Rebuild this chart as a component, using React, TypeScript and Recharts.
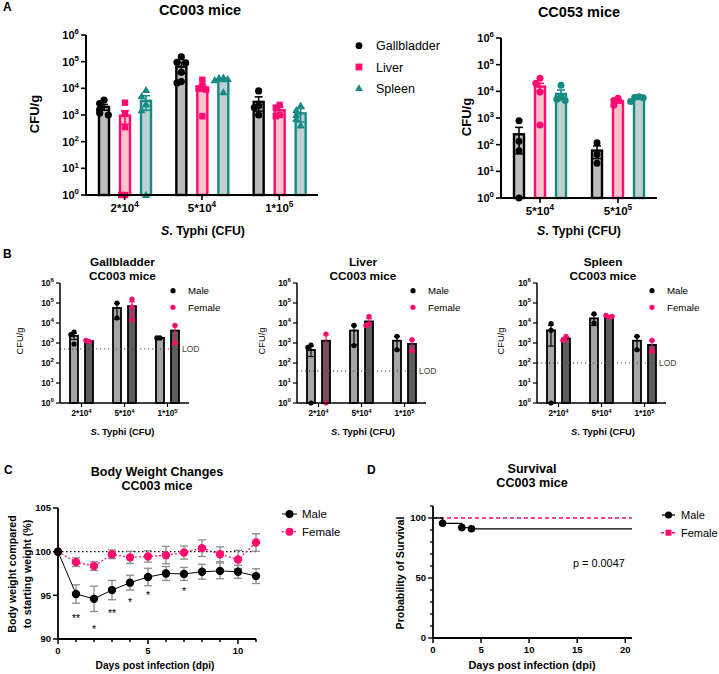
import React from "react";
import {
  BarChart,
  Bar,
  XAxis,
  YAxis,
  ReferenceLine,
  ComposedChart,
  Line,
  ErrorBar,
  Scatter,
} from "recharts";

const FONT = '"Liberation Sans", Arial, Helvetica, sans-serif';
const PINK = "#ff0a6e";
const TEAL = "#178a86";

// ---- A: CC003 organ burden (CFU/g) ----
const dosesCC003 = ["2*10^4", "5*10^4", "1*10^5"];
const gbCC003 = [
  [3600, 2700, 1600, 1200, 1000],
  [150000, 95000, 90000, 40000, 18000, 16000],
  [8000, 2200, 1900, 1000],
];
const gbCC003Mean = [2000, 65000, 3100];
const gbCC003Sem = [480, 29000, 1700];
const lvCC003 = [
  [2900, 1100, 350, 1, 1],
  [21000, 12000, 10000, 9000, 900],
  [2400, 1900, 1000, 900],
];
const lvCC003Mean = [950, 10500, 1500];
const lvCC003Sem = [500, 2800, 500];
const spCC003 = [
  [8500, 5000, 2500, 1500, 1],
  [25000, 24000, 22000, 20000, 7000],
  [2200, 1500, 1000, 700, 400],
];
const spCC003Mean = [3400, 21000, 1150];
const spCC003Sem = [1900, 3000, 600];

// ---- A: CC053 ----
const dosesCC053 = ["5*10^4", "5*10^5"];
const gbCC053 = [
  [790, 135, 59, 1],
  [118, 43, 20],
];
const gbCC053Mean = [245, 60];
const gbCC053Sem = [200, 30];
const lvCC053 = [
  [31000, 20000, 9500, 550],
  [5500, 4500, 3000],
];
const lvCC053Mean = [15000, 4300];
const lvCC053Sem = [5000, 700];
const spCC053 = [
  [17000, 6000, 5000, 4500],
  [6300, 6000, 5800, 4200],
];
const spCC053Mean = [8000, 5600];
const spCC053Sem = [3200, 500];

const organNames = ["Gallbladder", "Liver", "Spleen"];
const decadeTicks = [1, 10, 100, 1000, 10000, 100000, 1000000];

// ---- B: by sex, CC003 ----
const dosesB = ["2*10^4", "5*10^4", "1*10^5"];
const sexNames = ["Male", "Female"];
const gbMale = [[3550, 2600, 890], [100000, 17800], [1800, 1800]];
const gbMaleMean = [2300, 56000, 1800];
const gbMaleSem = [800, 40000, 30];
const gbFemale = [[1200, 1350], [158000, 63000, 14700], [7600, 1000]];
const gbFemaleMean = [1250, 70000, 4200];
const gbFemaleSem = [80, 45000, 3300];
const lvMale = [[790, 600, 1], [7600, 740], [2150, 460]];
const lvMaleMean = [450, 4200, 1300];
const lvMaleSem = [240, 3400, 850];
const lvFemale = [[2800, 1], [21500, 8900, 7600], [1470, 415]];
const lvFemaleMean = [1300, 12000, 900];
const lvFemaleSem = [1300, 4500, 530];
const spMale = [[9300, 4300, 1], [29000, 10000], [2150, 460]];
const spMaleMean = [4300, 17000, 1300];
const spMaleSem = [3600, 9500, 850];
const spFemale = [[2150, 1360], [20000, 24000, 21500], [1360, 415]];
const spFemaleMean = [1700, 21500, 800];
const spFemaleSem = [400, 1200, 470];
const lodValues = [500, 40, 100];

// ---- C: body weight ----
const days = [0, 1, 2, 3, 4, 5, 6, 7, 8, 9, 10, 11];
const dayLabels = [0, 5, 10];
const maleWeight = [100, 95.15, 94.6, 95.6, 96.45, 97.1, 97.5, 97.45, 97.7, 97.8, 97.7, 97.2];
const maleWeightSem = [0, 1.05, 1.45, 1.1, 0.85, 1.0, 0.8, 0.75, 0.85, 0.9, 0.75, 0.85];
const femaleWeight = [100, 98.8, 98.35, 99.7, 99.35, 99.45, 99.6, 99.9, 100.4, 99.7, 99.1, 101.05];
const femaleWeightSem = [0, 0.5, 0.5, 0.5, 0.7, 0.65, 1.0, 0.75, 0.95, 0.85, 1.05, 1.0];
const weightTicks = [90, 95, 100, 105];
const sigDays = [1, 2, 3, 4, 5, 7];
const sigMarks = ["**", "*", "**", "*", "*", "*"];
const sigLevel = [92.5, 91.3, 93.1, 94.4, 95.2, 95.6];

// ---- D: survival ----
const maleSurvDays = [0, 1, 3, 4, 20.7];
const maleSurv = [100, 95.6, 92, 91, 91];
const maleSurvMark = [false, true, true, true, false];
const femaleSurvDays = [0, 20.7];
const femaleSurv = [100, 100];
const survTicks = [0, 10, 20, 30, 40, 50, 60, 70, 80, 90, 100, 110];
const survLabels = [0, 50, 100];
const survDayTicks = [0, 5, 10, 15, 20];

// ---------- helpers ----------
const PT = 8;
const PR = 8;
function chartBox(f: any) {
  const pr = f.padR ?? PR;
  return {
    style: { position: "absolute" as const, left: f.l - f.padL, top: f.t - PT },
    width: f.r - f.l + f.padL + pr,
    height: f.b - f.t + PT + f.padB,
    margin: { top: PT, right: pr, bottom: 0, left: 0 },
  };
}

const powLabel = (size: number) => (s: string) => {
  const [base, exp] = String(s).split("^");
  return (
    <>
      {base}
      {exp !== undefined && (
        <tspan dy={-size * 0.42} fontSize={size * 0.72}>
          {exp}
        </tspan>
      )}
    </>
  );
};

const makeTick = (o: any) => (p: any) => {
  const v = p.payload.value;
  const major = o.major ? o.major(v) : true;
  const len = major ? o.len : o.minor;
  const lab = major ? o.label(v) : null;
  const common = { fontSize: o.size, fontWeight: "bold", fontFamily: FONT, fill: "#000" };
  if (o.side === "left") {
    return (
      <g>
        <line x1={p.x - len} x2={p.x} y1={p.y} y2={p.y} stroke="#000" strokeWidth={o.sw} />
        {lab !== null && (
          <text x={p.x - o.len - o.gap} y={p.y} dy={o.size * 0.36} textAnchor="end" {...common}>
            {lab}
          </text>
        )}
      </g>
    );
  }
  return (
    <g>
      <line x1={p.x} x2={p.x} y1={p.y} y2={p.y + len} stroke="#000" strokeWidth={o.sw} />
      {lab !== null && (
        <text x={p.x} y={p.y + o.len + o.gap} dy={o.size * 0.85} textAnchor="middle" {...common}>
          {lab}
        </text>
      )}
    </g>
  );
};

function Marker({ kind, cx, cy, r, color }: any) {
  if (kind === "square") return <rect x={cx - r} y={cy - r} width={r * 2} height={r * 2} fill={color} />;
  if (kind === "triangle")
    return (
      <path
        d={`M${cx},${cy - r * 1.2} L${cx + r * 1.15},${cy + r * 0.8} L${cx - r * 1.15},${cy + r * 0.8} Z`}
        fill={color}
      />
    );
  return <circle cx={cx} cy={cy} r={r} fill={color} />;
}

// bar + SEM + individual points, placed with the bar's own log geometry
const barShape = (c: any) => (p: any) => {
  const i = p.payload.i;
  const m = c.mean[i];
  const top = Math.min(p.y, p.y + p.height);
  const h = Math.abs(p.height);
  const bottom = top + h;
  const k = h / Math.log10(m);
  const py = (v: number) => bottom - Math.log10(Math.max(v, 1)) * k;
  const cx = p.x + p.width / 2;
  const hiY = py(m + c.sem[i]);
  const lowV = m - c.sem[i];
  const loY = py(lowV);
  const placed: number[] = [];
  const steps = [0, -1, 1, -2, 2, 0];
  const dots = c.pts[i].map((v: number, j: number) => {
    const y = py(v);
    const n = placed.filter((q) => Math.abs(q - y) < c.r * 1.8).length;
    placed.push(y);
    const x = cx + steps[n % steps.length] * c.r * 1.2;
    return <Marker key={j} kind={c.marker} cx={x} cy={y} r={c.r} color={c.dot} />;
  });
  const ew = c.sw * 0.65;
  return (
    <g>
      <rect x={p.x} y={top} width={p.width} height={h} fill={c.fill} stroke={c.stroke} strokeWidth={c.sw} />
      <line x1={cx} x2={cx} y1={hiY} y2={loY} stroke={c.err} strokeWidth={ew} />
      <line x1={cx - c.cap} x2={cx + c.cap} y1={hiY} y2={hiY} stroke={c.err} strokeWidth={ew} />
      {lowV > 1 && <line x1={cx - c.cap} x2={cx + c.cap} y1={loY} y2={loY} stroke={c.err} strokeWidth={ew} />}
      {dots}
    </g>
  );
};

const lodShape = (p: any) => (
  <g>
    <line x1={p.x1} x2={p.x2 - 9} y1={p.y1} y2={p.y2} stroke="#444" strokeWidth={1} strokeDasharray="1.2 2.8" />
    <text x={p.x2 - 7} y={p.y1} dy={3} fontSize={8.5} fontFamily={FONT} fill="#444">
      LOD
    </text>
  </g>
);

function LogBars({ f, doses, bars, barSize, barGap, axisW, yFs, xFs, tickLen, lod }: any) {
  const box = chartBox(f);
  const rows = doses.map((dose: string, i: number) => {
    const r: any = { dose, i };
    bars.forEach((b: any) => (r[b.key] = b.cfg.mean[i]));
    return r;
  });
  return (
    <div style={box.style}>
      <BarChart width={box.width} height={box.height} margin={box.margin} data={rows} barGap={barGap}>
        <XAxis
          dataKey="dose"
          type="category"
          height={f.padB}
          interval={0}
          tickSize={0}
          tickMargin={0}
          tickLine={false}
          axisLine={{ stroke: "#000", strokeWidth: axisW }}
          tick={makeTick({ side: "bottom", len: tickLen, gap: 2, size: xFs, sw: axisW * 0.8, label: powLabel(xFs) })}
        />
        <YAxis
          type="number"
          scale="log"
          domain={[1, 1000000]}
          ticks={decadeTicks}
          interval={0}
          width={f.padL}
          tickSize={0}
          tickMargin={0}
          tickLine={false}
          axisLine={{ stroke: "#000", strokeWidth: axisW }}
          tick={makeTick({
            side: "left",
            len: tickLen,
            gap: 2,
            size: yFs,
            sw: axisW * 0.8,
            label: (v: number) => powLabel(yFs)("10^" + Math.round(Math.log10(v))),
          })}
        />
        {lod !== undefined && <ReferenceLine y={lod} shape={lodShape} />}
        {bars.map((b: any) => (
          <Bar key={b.key} dataKey={b.key} barSize={barSize} shape={barShape(b.cfg)} isAnimationActive={false} />
        ))}
      </BarChart>
    </div>
  );
}

const organStyle = [
  { stroke: "#000", fill: "#bdbdbd", err: "#000", dot: "#000", marker: "circle", r: 3.6 },
  { stroke: PINK, fill: "#ffc2cf", err: PINK, dot: PINK, marker: "square", r: 3.2 },
  { stroke: TEAL, fill: "#bfd1d0", err: TEAL, dot: TEAL, marker: "triangle", r: 3.6 },
];
const organBars = (sets: any[], markers?: string[]) =>
  sets.map((s, k) => ({
    key: ["gb", "lv", "sp"][k],
    cfg: {
      ...organStyle[k],
      ...(markers ? { marker: markers[k], r: 3.5 } : {}),
      pts: s[0],
      mean: s[1],
      sem: s[2],
      sw: 2.4,
      cap: 4,
    },
  }));

const sexStyle = [
  { stroke: "#000", fill: "#a6a6a6", err: "#000", dot: "#000", marker: "circle", r: 2.6 },
  { stroke: "#000", fill: "#5c5c5c", err: PINK, dot: PINK, marker: "circle", r: 2.6 },
];
const sexBars = (sets: any[]) =>
  sets.map((s, k) => ({
    key: ["m", "f"][k],
    cfg: { ...sexStyle[k], pts: s[0], mean: s[1], sem: s[2], sw: 1.8, cap: 3 },
  }));

const frA003 = { l: 86, t: 35, r: 318, b: 195, padL: 60, padB: 28 };
const frA053 = { l: 501, t: 38, r: 657, b: 198, padL: 60, padB: 28 };
const frB = [
  { l: 60, t: 283, r: 189, b: 403, padL: 45, padB: 22, padR: 26 },
  { l: 297, t: 283, r: 426, b: 403, padL: 45, padB: 22, padR: 26 },
  { l: 537, t: 283, r: 666, b: 403, padL: 45, padB: 22, padR: 26 },
];
const frC = { l: 58, t: 508, r: 256, b: 639, padL: 45, padB: 22 };
const frD = { l: 433, t: 506, r: 632, b: 638, padL: 45, padB: 22 };

function WeightChart() {
  const box = chartBox(frC);
  const rows = days.map((d, i) => ({
    day: d,
    male: maleWeight[i],
    maleErr: maleWeightSem[i],
    female: femaleWeight[i],
    femaleErr: femaleWeightSem[i],
  }));
  const sig = sigDays.map((d, i) => ({ day: d, y: sigLevel[i], s: sigMarks[i] }));
  return (
    <div style={box.style}>
      <ComposedChart width={box.width} height={box.height} margin={box.margin} data={rows}>
        <XAxis
          type="number"
          dataKey="day"
          domain={[0, 11]}
          ticks={days}
          interval={0}
          height={frC.padB}
          tickSize={0}
          tickMargin={0}
          tickLine={false}
          axisLine={{ stroke: "#000", strokeWidth: 1.8 }}
          tick={makeTick({
            side: "bottom",
            len: 5,
            minor: 3,
            gap: 2,
            size: 9.5,
            sw: 1.5,
            major: (v: number) => dayLabels.includes(v),
            label: (v: number) => String(v),
          })}
        />
        <YAxis
          type="number"
          domain={[90, 105]}
          ticks={weightTicks}
          interval={0}
          width={frC.padL}
          tickSize={0}
          tickMargin={0}
          tickLine={false}
          axisLine={{ stroke: "#000", strokeWidth: 1.8 }}
          tick={makeTick({ side: "left", len: 5, gap: 2, size: 9.5, sw: 1.5, label: (v: number) => String(v) })}
        />
        <ReferenceLine y={100} stroke="#000" strokeWidth={1.2} strokeDasharray="1.5 2.5" />
        <Line
          dataKey="female"
          stroke={PINK}
          strokeWidth={1.2}
          strokeDasharray="2 2"
          dot={{ r: 4.2, fill: PINK, stroke: PINK, strokeWidth: 0 }}
          isAnimationActive={false}
        >
          <ErrorBar dataKey="femaleErr" width={4} stroke="#8c8c8c" strokeWidth={1.3} direction="y" />
        </Line>
        <Line
          dataKey="male"
          stroke="#000"
          strokeWidth={1}
          dot={{ r: 4.2, fill: "#000", stroke: "#000", strokeWidth: 0 }}
          isAnimationActive={false}
        >
          <ErrorBar dataKey="maleErr" width={4} stroke="#8c8c8c" strokeWidth={1.3} direction="y" />
        </Line>
        <Scatter
          data={sig}
          dataKey="y"
          isAnimationActive={false}
          shape={(p: any) => (
            <text x={p.cx} y={p.cy} dy={5} textAnchor="middle" fontSize={10.5} fontFamily={FONT} fill="#000">
              {p.payload.s}
            </text>
          )}
        />
      </ComposedChart>
    </div>
  );
}

function SurvivalChart() {
  const box = chartBox(frD);
  const male = maleSurvDays.map((t, i) => ({ t, p: maleSurv[i], mark: maleSurvMark[i] }));
  const female = femaleSurvDays.map((t, i) => ({ t, p: femaleSurv[i] }));
  return (
    <div style={box.style}>
      <ComposedChart width={box.width} height={box.height} margin={box.margin}>
        <XAxis
          type="number"
          dataKey="t"
          domain={[0, 20.7]}
          ticks={survDayTicks}
          interval={0}
          height={frD.padB}
          tickSize={0}
          tickMargin={0}
          tickLine={false}
          axisLine={{ stroke: "#000", strokeWidth: 1.8 }}
          tick={makeTick({ side: "bottom", len: 5, gap: 2, size: 9.5, sw: 1.5, label: (v: number) => String(v) })}
        />
        <YAxis
          type="number"
          domain={[0, 110]}
          ticks={survTicks}
          interval={0}
          width={frD.padL}
          tickSize={0}
          tickMargin={0}
          tickLine={false}
          axisLine={{ stroke: "#000", strokeWidth: 1.8 }}
          tick={makeTick({
            side: "left",
            len: 5,
            minor: 3,
            gap: 2,
            size: 9.5,
            sw: 1.3,
            major: (v: number) => survLabels.includes(v),
            label: (v: number) => String(v),
          })}
        />
        <Line
          data={female}
          dataKey="p"
          type="linear"
          stroke={PINK}
          strokeWidth={1.5}
          strokeDasharray="4 3"
          dot={false}
          isAnimationActive={false}
        />
        <Line
          data={male}
          dataKey="p"
          type="stepAfter"
          stroke="#000"
          strokeWidth={1.3}
          isAnimationActive={false}
          dot={(p: any) =>
            p.payload.mark ? (
              <circle key={p.index} cx={p.cx} cy={p.cy} r={3.8} fill="#000" />
            ) : (
              <g key={p.index} />
            )
          }
        />
      </ComposedChart>
    </div>
  );
}

const T = ({ x, y, s = 12, w = "bold", a = "middle", rot, fill = "#000", children }: any) => (
  <text
    x={x}
    y={y}
    fontSize={s}
    fontWeight={w}
    textAnchor={a}
    fill={fill}
    fontFamily={FONT}
    dominantBaseline={rot ? "central" : undefined}
    transform={rot ? `rotate(${rot} ${x} ${y})` : undefined}
  >
    {children}
  </text>
);

const Typhi = () => (
  <>
    <tspan fontStyle="italic">S</tspan>. Typhi (CFU)
  </>
);

function Overlay() {
  const bTitles = [
    { x: 122.5, name: organNames[0] },
    { x: 363, name: organNames[1] },
    { x: 603, name: organNames[2] },
  ];
  const bLegendX = [173, 413, 652];
  const bYLabelX = [20, 262, 501];
  return (
    <svg width={719} height={674} style={{ position: "absolute", left: 0, top: 0, pointerEvents: "none" }}>
      {/* panel letters */}
      <T x={3} y={11} s={12} a="start">A</T>
      <T x={3} y={258} s={12} a="start">B</T>
      <T x={4} y={474} s={12} a="start">C</T>
      <T x={367} y={474} s={12} a="start">D</T>

      {/* A */}
      <T x={200} y={15} s={14.5}>CC003 mice</T>
      <T x={579} y={17} s={14.5}>CC053 mice</T>
      <T x={34} y={114} s={13} rot={-90}>CFU/g</T>
      <T x={466} y={117} s={13} rot={-90}>CFU/g</T>
      <T x={203} y={235} s={12.3}><Typhi /></T>
      <T x={579} y={235} s={12.3}><Typhi /></T>
      {organNames.map((n, k) => (
        <g key={n}>
          <Marker kind={organStyle[k].marker} cx={359} cy={45.7 + k * 21.3} r={3.4} color={organStyle[k].dot} />
          <T x={376} y={50 + k * 21.5} s={12.5} w="normal" a="start">{n}</T>
        </g>
      ))}

      {/* B */}
      {bTitles.map((t, k) => (
        <g key={t.name}>
          <T x={t.x} y={266} s={11.8}>{t.name}</T>
          <T x={t.x} y={280} s={11.8}>CC003 mice</T>
          <T x={bYLabelX[k]} y={341} s={9.3} w="normal" rot={-90}>CFU/g</T>
          <T x={t.x} y={434.5} s={9.4}><Typhi /></T>
          {sexNames.map((n, j) => (
            <g key={n}>
              <circle cx={bLegendX[k]} cy={290.7 + j * 16.6} r={2.6} fill={sexStyle[j].dot} />
              <T x={bLegendX[k] + 15} y={294.3 + j * 16.6} s={9.7} w="normal" a="start">{n}</T>
            </g>
          ))}
        </g>
      ))}

      {/* C */}
      <T x={157} y={476} s={12.5}>Body Weight Changes</T>
      <T x={157} y={490} s={12.5}>CC003 mice</T>
      <T x={11.7} y={574} s={10.7} rot={-90}>Body weight compared</T>
      <T x={26.7} y={574} s={10.7} rot={-90}>to starting weight (%)</T>
      <T x={155} y={669} s={10.2}>Days post infection (dpi)</T>
      <line x1={282} x2={297} y1={514} y2={514} stroke="#000" strokeWidth={1} />
      <circle cx={289.5} cy={514} r={4} fill="#000" />
      <T x={302} y={518} s={11.5} w="normal" a="start">{sexNames[0]}</T>
      <line x1={282} x2={297} y1={531.7} y2={531.7} stroke={PINK} strokeWidth={1.2} strokeDasharray="2 2" />
      <circle cx={289.5} cy={531.7} r={4} fill={PINK} />
      <T x={302} y={535.5} s={11.5} w="normal" a="start">{sexNames[1]}</T>

      {/* D */}
      <T x={532} y={472.7} s={12.6}>Survival</T>
      <T x={532} y={486.7} s={12.6}>CC003 mice</T>
      <T x={400} y={573} s={10.7} rot={-90}>Probability of Survival</T>
      <T x={532} y={669} s={10.9}>Days post infection (dpi)</T>
      <T x={573} y={567} s={10.9} w="normal" a="start">p = 0.0047</T>
      <line x1={662} x2={675} y1={515} y2={515} stroke="#000" strokeWidth={1.3} />
      <circle cx={668.5} cy={515} r={3.6} fill="#000" />
      <T x={681} y={519} s={11} w="normal" a="start">{sexNames[0]}</T>
      <line x1={661} x2={676} y1={532.7} y2={532.7} stroke={PINK} strokeWidth={1.5} strokeDasharray="3 2.5" />
      <rect x={665.5} y={529.7} width={6} height={6} fill={PINK} />
      <T x={681} y={536.5} s={11} w="normal" a="start">{sexNames[1]}</T>
    </svg>
  );
}

export default function App() {
  return (
    <div style={{ position: "absolute", left: 0, top: 0, width: 719, height: 674, background: "#fff", fontFamily: FONT }}>
      <LogBars
        f={frA003}
        doses={dosesCC003}
        bars={organBars([
          [gbCC003, gbCC003Mean, gbCC003Sem],
          [lvCC003, lvCC003Mean, lvCC003Sem],
          [spCC003, spCC003Mean, spCC003Sem],
        ])}
        barSize={10}
        barGap={11}
        axisW={2}
        yFs={11}
        xFs={11.5}
        tickLen={5}
      />
      <LogBars
        f={frA053}
        doses={dosesCC053}
        bars={organBars(
          [
            [gbCC053, gbCC053Mean, gbCC053Sem],
            [lvCC053, lvCC053Mean, lvCC053Sem],
            [spCC053, spCC053Mean, spCC053Sem],
          ],
          ["circle", "circle", "circle"]
        )}
        barSize={10}
        barGap={11}
        axisW={2}
        yFs={11}
        xFs={11.5}
        tickLen={5}
      />
      {[
        [[gbMale, gbMaleMean, gbMaleSem], [gbFemale, gbFemaleMean, gbFemaleSem]],
        [[lvMale, lvMaleMean, lvMaleSem], [lvFemale, lvFemaleMean, lvFemaleSem]],
        [[spMale, spMaleMean, spMaleSem], [spFemale, spFemaleMean, spFemaleSem]],
      ].map((sets, k) => (
        <LogBars
          key={k}
          f={frB[k]}
          doses={dosesB}
          bars={sexBars(sets)}
          barSize={8}
          barGap={7}
          axisW={1.5}
          yFs={8.5}
          xFs={8.2}
          tickLen={4}
          lod={lodValues[k]}
        />
      ))}
      <WeightChart />
      <SurvivalChart />
      <Overlay />
    </div>
  );
}
